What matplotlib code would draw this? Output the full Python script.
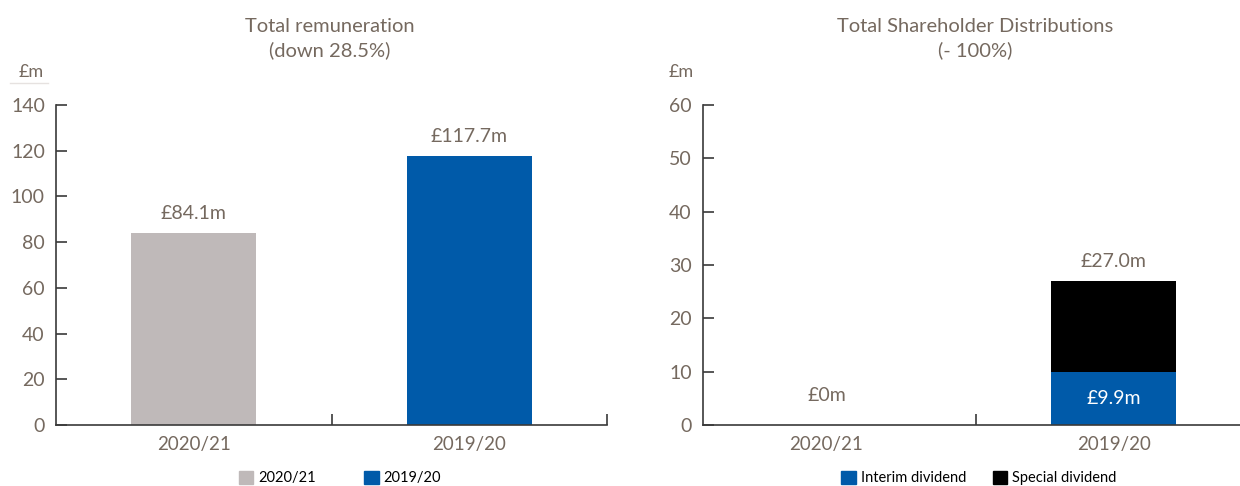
import matplotlib
matplotlib.use('Agg')
import matplotlib.pyplot as plt
from matplotlib.patches import Patch

# Data
years = ['2020/21', '2019/20']
remuneration = [84.1, 117.7]
remuneration_labels = ['£84.1m', '£117.7m']
interim = [0.0, 9.9]
special = [0.0, 17.1]
distribution_totals = ['£0m', '£27.0m']
interim_labels = ['', '£9.9m']

TEXT = '#75695f'
GREY = '#bfb9b9'
BLUE = '#005aa9'
SPINE = '#3a3a3a'

plt.rcParams['font.family'] = ['Lato', 'DejaVu Sans']

fig = plt.figure(figsize=(12.4, 4.86), dpi=100)
W, H = 1240, 486


def px_axes(x0, x1, y_top, y_bot):
    return fig.add_axes([x0 / W, 1 - y_bot / H, (x1 - x0) / W, (y_bot - y_top) / H])


def style_axes(ax):
    for side in ['top', 'right']:
        ax.spines[side].set_visible(False)
    for side in ['left', 'bottom']:
        ax.spines[side].set_color(SPINE)
        ax.spines[side].set_linewidth(1.2)
    ax.tick_params(axis='y', direction='in', length=8, width=1.2, color=SPINE,
                   labelsize=14, labelcolor=TEXT, pad=8)
    ax.tick_params(axis='x', which='major', length=0, labelsize=13.5,
                   labelcolor=TEXT, pad=8)
    ax.tick_params(axis='x', which='minor', direction='in', length=8,
                   width=1.2, color=SPINE)
    ax.set_xticks(range(len(years)))
    ax.set_xticklabels(years)


# Left chart: total remuneration
ax1 = px_axes(56, 607, 105, 425)
x = list(range(len(years)))
bars = ax1.bar(x, remuneration, width=0.455, color=[GREY, BLUE])
ax1.set_xlim(-0.5, 1.5)
ax1.set_ylim(0, 140)
ax1.set_yticks(range(0, 141, 20))
ax1.set_xticks([0.5, 1.5], minor=True)
style_axes(ax1)
for b, lab in zip(bars, remuneration_labels):
    ax1.annotate(lab, (b.get_x() + b.get_width() / 2, b.get_height()),
                 xytext=(0, 8), textcoords='offset points',
                 ha='center', va='bottom', fontsize=14, color=TEXT)
fig.text(330 / W, 1 - 26 / H, 'Total remuneration', ha='center', va='center',
         fontsize=14.5, color=TEXT)
fig.text(330 / W, 1 - 50 / H, '(down 28.5%)', ha='center', va='center',
         fontsize=14.5, color=TEXT)
fig.text(31 / W, 1 - 72 / H, '£m', ha='center', va='center', fontsize=13,
         color=TEXT)
fig.add_artist(plt.Line2D([10 / W, 48 / W], [1 - 83 / H, 1 - 83 / H],
                          color='#e6e2e0', lw=1))

# Right chart: shareholder distributions
ax2 = px_axes(703, 1240, 105, 425)
ax2.bar(x, interim, width=0.435, color=BLUE)
ax2.bar(x, special, bottom=interim, width=0.435, color='black')
ax2.set_xlim(-0.43, 1.44)
ax2.set_ylim(0, 60)
ax2.set_yticks(range(0, 61, 10))
ax2.set_xticks([0.52], minor=True)
style_axes(ax2)
for i, lab in enumerate(distribution_totals):
    top = interim[i] + special[i]
    off = 8 if top > 0 else 15
    ax2.annotate(lab, (i, top), xytext=(0, off), textcoords='offset points',
                 ha='center', va='bottom', fontsize=14, color=TEXT)
for i, lab in enumerate(interim_labels):
    if lab:
        ax2.text(i, interim[i] / 2, lab, ha='center', va='center',
                 fontsize=14, color='white')
fig.text(975 / W, 1 - 26 / H, 'Total Shareholder Distributions', ha='center',
         va='center', fontsize=14.5, color=TEXT)
fig.text(975 / W, 1 - 50 / H, '(- 100%)', ha='center', va='center',
         fontsize=14.5, color=TEXT)
fig.text(681 / W, 1 - 72 / H, '£m', ha='center', va='center', fontsize=13,
         color=TEXT)

# Legends
leg_kw = dict(loc='center', ncol=2, frameon=False, fontsize=10.5,
              handlelength=1.0, handleheight=1.0, handletextpad=0.35,
              labelcolor='black')
fig.legend([Patch(color=GREY), Patch(color=BLUE)], years,
           bbox_to_anchor=(340 / W, 1 - 478 / H), columnspacing=3.3, **leg_kw)
fig.legend([Patch(color=BLUE), Patch(color='black')],
           ['Interim dividend', 'Special dividend'],
           bbox_to_anchor=(979 / W, 1 - 478 / H), columnspacing=1.8, **leg_kw)

fig.savefig('out.png', dpi=100)
